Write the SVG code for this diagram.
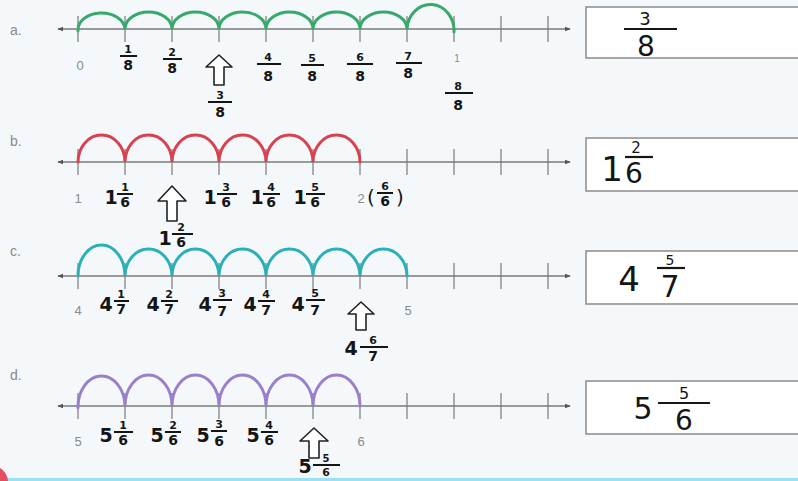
<svg xmlns="http://www.w3.org/2000/svg" width="798" height="481" viewBox="0 0 798 481">
<defs>
<style>
.bg{fill:#f4f8fb}
.hw{font-family:"DejaVu Sans",sans-serif;font-weight:bold;fill:#151515;text-anchor:middle}
.n{font-size:11px}.d{font-size:14px}.w{font-size:19px}
.bar{stroke:#151515;stroke-width:2}
.gray{font-family:"Liberation Sans",sans-serif;fill:#8a8a8a;font-size:13px;text-anchor:middle}
.lbl{font-family:"Liberation Sans",sans-serif;fill:#8a8a8a;font-size:14px}
.axis{stroke:#7a7a7a;stroke-width:1.4;fill:none}
.tick{stroke:#7a7a7a;stroke-width:1.2}
.hop{fill:none;stroke-width:3;stroke-linecap:round}
.up{fill:#fff;stroke:#222;stroke-width:1.6;stroke-linejoin:round}
.box{fill:#fff;stroke:#8a8a8a;stroke-width:1.5}
.ans{font-family:"DejaVu Sans",sans-serif;fill:#151515;text-anchor:middle}
.abar{stroke:#151515;stroke-width:2.2}
</style>
<marker id="ah" viewBox="0 0 8 8" refX="7" refY="4" markerWidth="6" markerHeight="6" orient="auto-start-reverse" markerUnits="userSpaceOnUse"><path d="M0,1 L8,4 L0,7 Z" fill="#555"/></marker>
<g id="ticks"><line class="tick" x1="78" y1="-13" x2="78" y2="13"/><line class="tick" x1="125" y1="-13" x2="125" y2="13"/><line class="tick" x1="172" y1="-13" x2="172" y2="13"/><line class="tick" x1="219" y1="-13" x2="219" y2="13"/><line class="tick" x1="266" y1="-13" x2="266" y2="13"/><line class="tick" x1="313" y1="-13" x2="313" y2="13"/><line class="tick" x1="360" y1="-13" x2="360" y2="13"/><line class="tick" x1="407" y1="-13" x2="407" y2="13"/><line class="tick" x1="454" y1="-13" x2="454" y2="13"/><line class="tick" x1="501" y1="-13" x2="501" y2="13"/><line class="tick" x1="548" y1="-13" x2="548" y2="13"/><line class="axis" x1="58" y1="0" x2="570" y2="0" marker-start="url(#ah)" marker-end="url(#ah)"/></g>
</defs>
<rect class="bg" x="0" y="0" width="798" height="481"/>
<rect x="0" y="478" width="798" height="3" fill="#9adff2"/>
<path d="M0,468 Q7,472 8,481 L0,481 Z" fill="#e0505e"/>

<g id="row-a">
<text class="lbl" x="10" y="35">a.</text>
<use href="#ticks" transform="translate(0,29)"/>
<path class="hop" stroke="#36a96b" d="M78,31 A23.5,17 0 0 1 125,29 A23.5,17 0 0 1 172,29 A23.5,17 0 0 1 219,29 A23.5,17 0 0 1 266,29 A23.5,17 0 0 1 313,29 A23.5,17 0 0 1 360,29 A23.5,17 0 0 1 407,29 A23.5,26 0 0 1 454,32"/>
<text class="gray" x="80" y="70">0</text>
<text class="gray" x="457" y="62" style="font-size:10px">1</text>
<text class="hw n" x="128" y="53">1</text><line class="bar" x1="120" y1="56" x2="137" y2="56"/><text class="hw d" x="128" y="70">8</text>
<text class="hw n" x="172" y="56">2</text><line class="bar" x1="163" y1="59" x2="182" y2="59"/><text class="hw d" x="172" y="73">8</text>
<polygon class="up" points="219,55 232,67 224,67 224,85 214,85 214,67 206,67"/>
<text class="hw n" x="220" y="99">3</text><line class="bar" x1="208" y1="102" x2="232" y2="102"/><text class="hw d" x="220" y="117">8</text>
<text class="hw n" x="268" y="61">4</text><line class="bar" x1="257" y1="64" x2="281" y2="64"/><text class="hw d" x="268" y="81">8</text>
<text class="hw n" x="312" y="62">5</text><line class="bar" x1="301" y1="65" x2="324" y2="65"/><text class="hw d" x="312" y="81">8</text>
<text class="hw n" x="360" y="61">6</text><line class="bar" x1="347" y1="64" x2="373" y2="64"/><text class="hw d" x="360" y="81">8</text>
<text class="hw n" x="408" y="60">7</text><line class="bar" x1="396" y1="63" x2="422" y2="63"/><text class="hw d" x="408" y="78">8</text>
<text class="hw n" x="458" y="90">8</text><line class="bar" x1="445" y1="93" x2="473" y2="93"/><text class="hw d" x="458" y="110">8</text>
</g>

<g id="row-b">
<text class="lbl" x="10" y="146">b.</text>
<use href="#ticks" transform="translate(0,162)"/>
<path class="hop" stroke="#d8424e" d="M78,162 A23.5,27 0 0 1 125,162 A23.5,27 0 0 1 172,162 A23.5,27 0 0 1 219,162 A23.5,27 0 0 1 266,162 A23.5,27 0 0 1 313,162 A23.5,27 0 0 1 360,162"/>
<text class="gray" x="78" y="203">1</text>
<text class="gray" x="361" y="203">2</text>
<text class="hw w" x="111" y="204">1</text><text class="hw n" x="125" y="191">1</text><line class="bar" x1="117" y1="194" x2="133" y2="194"/><text class="hw d" x="125" y="207">6</text>
<polygon class="up" points="172,186 186,201 177,201 177,221 167,221 167,201 158,201"/>
<text class="hw w" x="165" y="245">1</text><text class="hw n" x="181" y="231">2</text><line class="bar" x1="172" y1="234" x2="193" y2="234"/><text class="hw d" x="181" y="247">6</text>
<text class="hw w" x="210" y="204">1</text><text class="hw n" x="226" y="191">3</text><line class="bar" x1="217" y1="194" x2="237" y2="194"/><text class="hw d" x="226" y="207">6</text>
<text class="hw w" x="257" y="204">1</text><text class="hw n" x="271" y="191">4</text><line class="bar" x1="263" y1="194" x2="280" y2="194"/><text class="hw d" x="271" y="207">6</text>
<text class="hw w" x="300" y="204">1</text><text class="hw n" x="315" y="191">5</text><line class="bar" x1="306" y1="194" x2="325" y2="194"/><text class="hw d" x="315" y="207">6</text>
<text class="hw" x="371" y="204" style="font-size:20px;font-weight:normal">(</text><text class="hw n" x="385" y="190">6</text><line class="bar" x1="377" y1="193" x2="393" y2="193"/><text class="hw d" x="385" y="206">6</text><text class="hw" x="400" y="204" style="font-size:20px;font-weight:normal">)</text>
</g>

<g id="row-c">
<text class="lbl" x="10" y="256">c.</text>
<use href="#ticks" transform="translate(0,276)"/>
<path class="hop" stroke="#2bb0b6" d="M78,276 A23.5,31 0 0 1 125,276 A23.5,27 0 0 1 172,276 A23.5,27 0 0 1 219,276 A23.5,27 0 0 1 266,276 A23.5,27 0 0 1 313,276 A23.5,27 0 0 1 360,276 A23.5,27 0 0 1 407,276"/>
<text class="gray" x="78" y="315">4</text>
<text class="gray" x="408" y="315">5</text>
<text class="hw w" x="106" y="311">4</text><text class="hw n" x="121" y="298">1</text><line class="bar" x1="114" y1="301" x2="129" y2="301"/><text class="hw d" x="121" y="314">7</text>
<text class="hw w" x="153" y="311">4</text><text class="hw n" x="169" y="298">2</text><line class="bar" x1="161" y1="301" x2="178" y2="301"/><text class="hw d" x="169" y="314">7</text>
<text class="hw w" x="205" y="311">4</text><text class="hw n" x="222" y="297">3</text><line class="bar" x1="213" y1="300" x2="232" y2="300"/><text class="hw d" x="222" y="316">7</text>
<text class="hw w" x="250" y="311">4</text><text class="hw n" x="266" y="298">4</text><line class="bar" x1="258" y1="301" x2="275" y2="301"/><text class="hw d" x="266" y="315">7</text>
<text class="hw w" x="298" y="311">4</text><text class="hw n" x="315" y="297">5</text><line class="bar" x1="306" y1="300" x2="325" y2="300"/><text class="hw d" x="315" y="315">7</text>
<polygon class="up" points="361,302 374,314 366,314 366,330 356,330 356,314 348,314"/>
<text class="hw w" x="351" y="355">4</text><text class="hw n" x="373" y="344">6</text><line class="bar" x1="360" y1="347" x2="388" y2="347"/><text class="hw d" x="373" y="361">7</text>
</g>

<g id="row-d">
<text class="lbl" x="10" y="380">d.</text>
<use href="#ticks" transform="translate(0,406)"/>
<path class="hop" stroke="#9a80cb" d="M78,408 A23.5,31 0 0 1 125,406 A23.5,31 0 0 1 172,406 A23.5,31 0 0 1 219,406 A23.5,31 0 0 1 266,406 A23.5,31 0 0 1 313,406 A23.5,31 0 0 1 360,406"/>
<text class="gray" x="78" y="446">5</text>
<text class="gray" x="361" y="446">6</text>
<text class="hw w" x="106" y="442">5</text><text class="hw n" x="123" y="429">1</text><line class="bar" x1="114" y1="432" x2="133" y2="432"/><text class="hw d" x="123" y="445">6</text>
<text class="hw w" x="157" y="442">5</text><text class="hw n" x="173" y="429">2</text><line class="bar" x1="165" y1="432" x2="181" y2="432"/><text class="hw d" x="173" y="445">6</text>
<text class="hw w" x="203" y="442">5</text><text class="hw n" x="219" y="428">3</text><line class="bar" x1="211" y1="431" x2="227" y2="431"/><text class="hw d" x="219" y="446">6</text>
<text class="hw w" x="253" y="442">5</text><text class="hw n" x="269" y="429">4</text><line class="bar" x1="261" y1="432" x2="278" y2="432"/><text class="hw d" x="269" y="445">6</text>
<polygon class="up" points="314,428 328,441 319,441 319,458 309,458 309,441 300,441"/>
<text class="hw w" x="305" y="473">5</text><text class="hw n" x="326" y="462" style="font-size:10px">5</text><line class="bar" x1="313" y1="465" x2="340" y2="465"/><text class="hw d" x="326" y="476" style="font-size:11px">6</text>
</g>

<g id="answer-a"><rect class="box" x="586" y="7" width="230" height="51"/><text class="ans" x="645" y="25" style="font-size:18px">3</text><line class="abar" x1="624" y1="29" x2="677" y2="29"/><text class="ans" x="646" y="56" style="font-size:28px">8</text></g>
<g id="answer-b"><rect class="box" x="586" y="138" width="230" height="53"/><text class="ans" x="612" y="181" style="font-size:34px">1</text><text class="ans" x="636" y="153" style="font-size:15px">2</text><line class="abar" x1="625" y1="157" x2="653" y2="157"/><text class="ans" x="634" y="183" style="font-size:28px">6</text></g>
<g id="answer-c"><rect class="box" x="586" y="251" width="230" height="53"/><text class="ans" x="629" y="291" style="font-size:34px">4</text><text class="ans" x="670" y="265" style="font-size:14px">5</text><line class="abar" x1="657" y1="268" x2="685" y2="268"/><text class="ans" x="670" y="297" style="font-size:30px">7</text></g>
<g id="answer-d"><rect class="box" x="586" y="381" width="230" height="53"/><text class="ans" x="643" y="419" style="font-size:30px">5</text><text class="ans" x="684" y="399" style="font-size:16px">5</text><line class="abar" x1="658" y1="403" x2="710" y2="403"/><text class="ans" x="684" y="430" style="font-size:28px">6</text></g>
</svg>
